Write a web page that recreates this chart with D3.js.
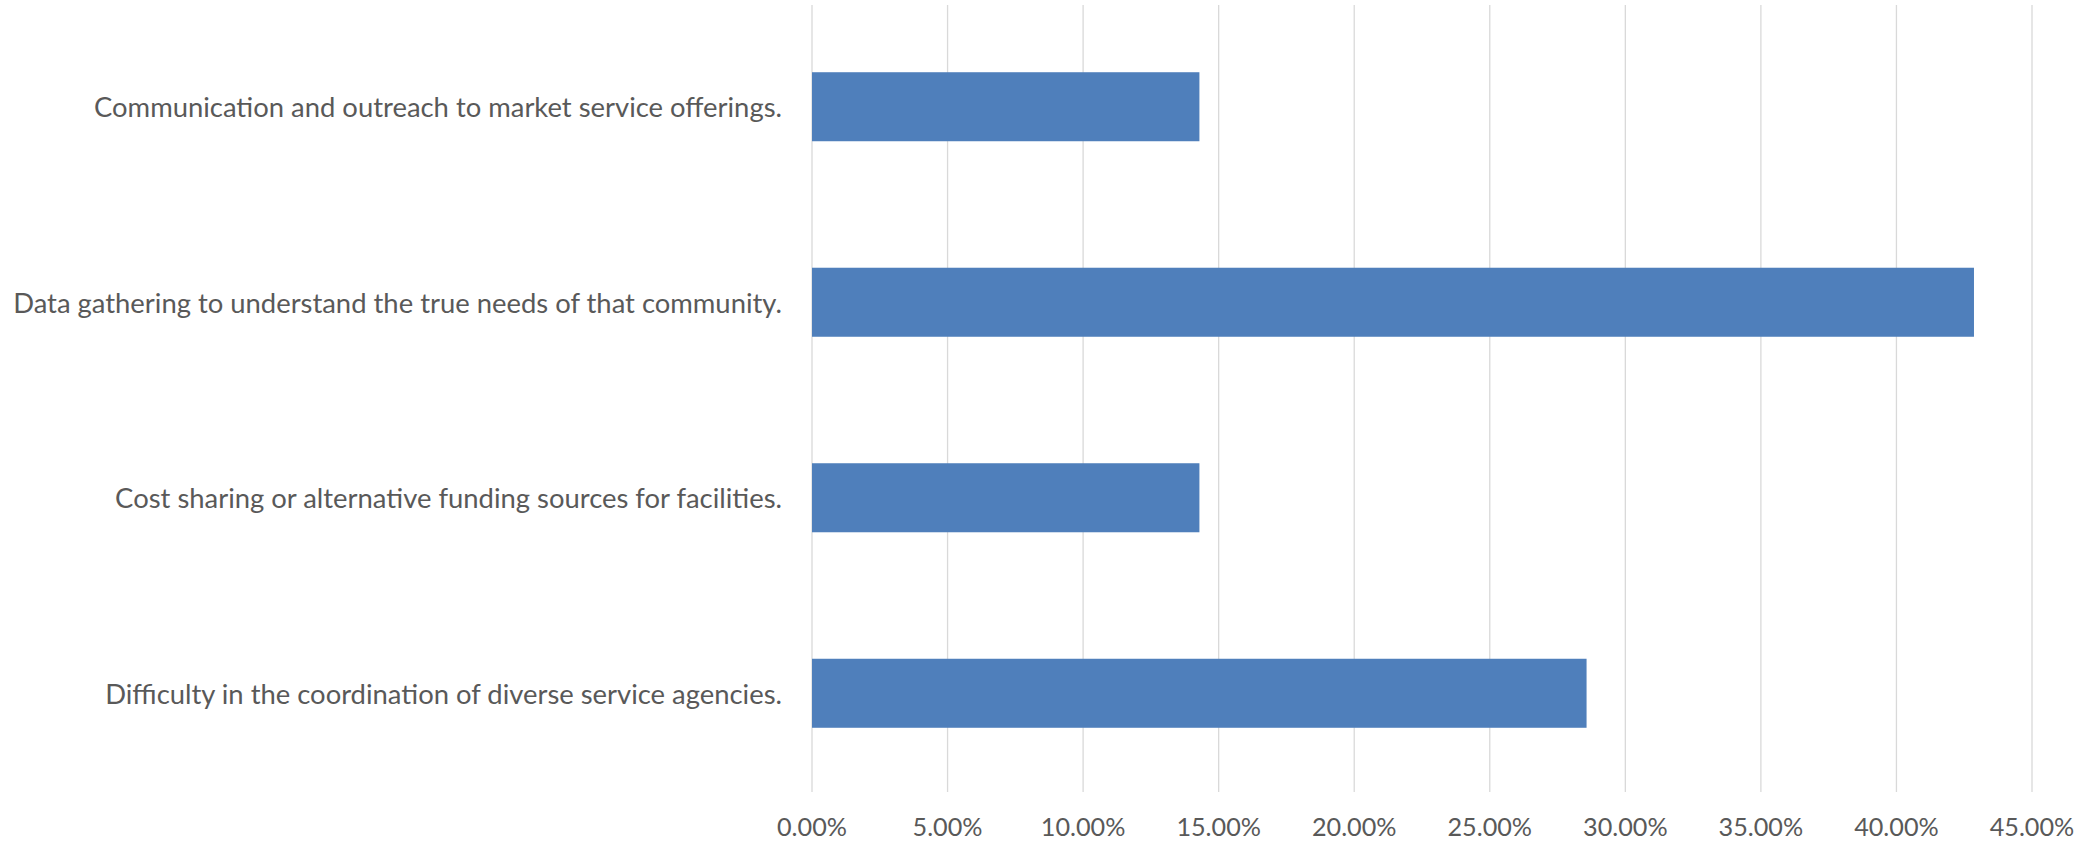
<!DOCTYPE html>
<html>
<head>
<meta charset="utf-8">
<script src="https://cdn.jsdelivr.net/npm/d3@7"></script>
<style>
  html, body { margin: 0; padding: 0; background: #ffffff; }
  svg { display: block; }
</style>
</head>
<body>
<svg id="chart" width="2085" height="844"></svg>
<script>
// ---- data ----
const categories = [
  "Communication and outreach to market service offerings.",
  "Data gathering to understand the true needs of that community.",
  "Cost sharing or alternative funding sources for facilities.",
  "Difficulty in the coordination of diverse service agencies."
];
const values = [0.1429, 0.4286, 0.1429, 0.2857];
const tickValues = [0, 0.05, 0.10, 0.15, 0.20, 0.25, 0.30, 0.35, 0.40, 0.45];
const tickLabels = ["0.00%", "5.00%", "10.00%", "15.00%", "20.00%", "25.00%", "30.00%", "35.00%", "40.00%", "45.00%"];

// ---- layout ----
const W = 2085, H = 844;
const plotLeft = 812, plotRight = 2032, plotTop = 5, plotBottom = 792;
const fontFamily = "Lato, 'Open Sans', sans-serif";
const textColor = "#595959";

const svg = d3.select("#chart");

const x = d3.scaleLinear().domain([0, 0.45]).range([plotLeft, plotRight]);
const y = d3.scaleBand().domain(categories).range([8, plotBottom])
  .paddingInner(0.647).paddingOuter(0.3285);

// gridlines
svg.append("g").selectAll("line").data(tickValues).join("line")
  .attr("x1", d => x(d)).attr("x2", d => x(d))
  .attr("y1", plotTop).attr("y2", plotBottom)
  .attr("stroke", "#d9d9d9").attr("stroke-width", 1.3);

// bars
svg.append("g").selectAll("rect").data(categories).join("rect")
  .attr("x", x(0))
  .attr("y", d => y(d))
  .attr("width", (d, i) => x(values[i]) - x(0))
  .attr("height", y.bandwidth())
  .attr("fill", "#4f7fbb");

// category labels
const catG = svg.append("g");
const cats = catG.selectAll("text").data(categories).join("text")
  .attr("x", plotLeft - 30)
  .attr("y", d => y(d) + y.bandwidth() / 2)
  .attr("text-anchor", "end")
  .attr("dominant-baseline", "central")
  .attr("fill", textColor)
  .style("font-family", fontFamily)
  .style("font-size", "24px")
  .text(d => d);

// fit category font so the longest label spans ~769px
let maxW = 0;
cats.each(function() { maxW = Math.max(maxW, this.getComputedTextLength()); });
const catSize = 24 * 769 / maxW;
cats.style("font-size", catSize + "px");

// x tick labels
const ticks = svg.append("g").selectAll("text").data(tickValues).join("text")
  .attr("x", d => x(d))
  .attr("y", 826)
  .attr("text-anchor", "middle")
  .attr("dominant-baseline", "central")
  .attr("fill", textColor)
  .style("font-family", fontFamily)
  .style("font-size", "24px")
  .text((d, i) => tickLabels[i]);

const t0 = ticks.node().getComputedTextLength();
ticks.style("font-size", (24 * 70 / t0) + "px");
</script>
</body>
</html>
